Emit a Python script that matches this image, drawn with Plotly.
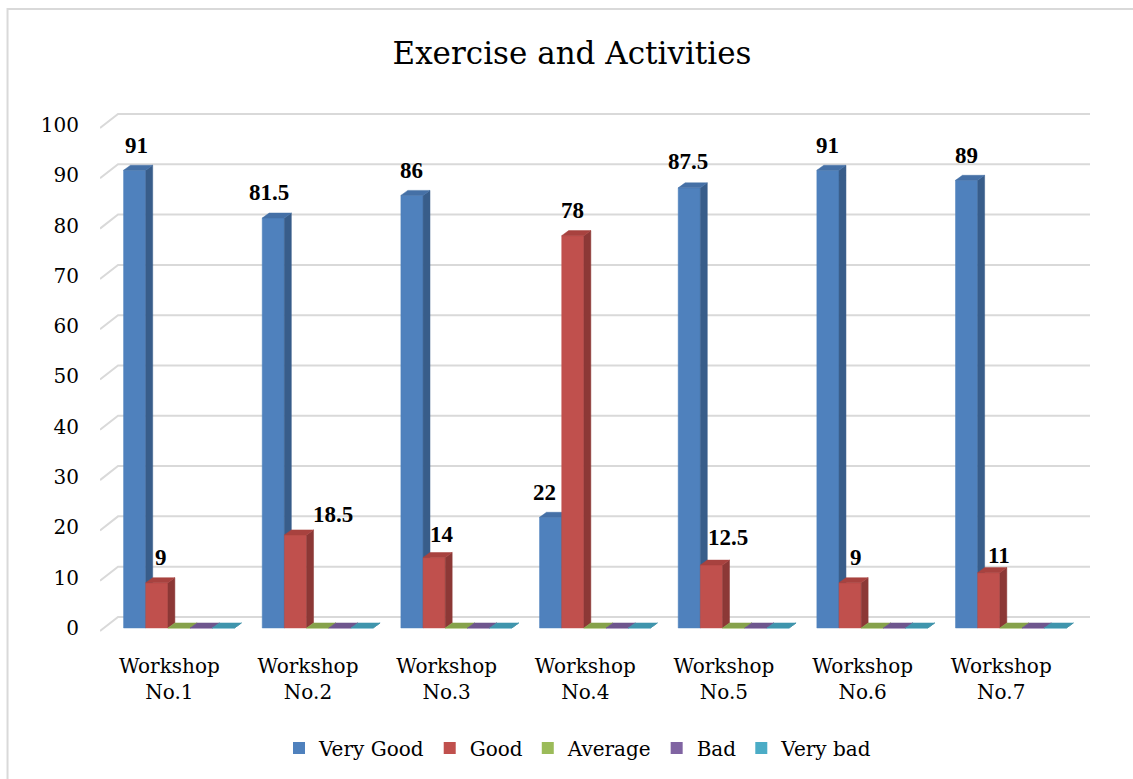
import plotly.graph_objects as go

# ---------------- data ----------------
categories = ["Workshop<br>No.1", "Workshop<br>No.2", "Workshop<br>No.3", "Workshop<br>No.4",
              "Workshop<br>No.5", "Workshop<br>No.6", "Workshop<br>No.7"]
series_names = ["Very Good", "Good", "Average", "Bad", "Very bad"]
very_good = [91, 81.5, 86, 22, 87.5, 91, 89]
good = [9, 18.5, 14, 78, 12.5, 9, 11]
average = [0, 0, 0, 0, 0, 0, 0]
bad = [0, 0, 0, 0, 0, 0, 0]
very_bad = [0, 0, 0, 0, 0, 0, 0]
y_ticks = [0, 10, 20, 30, 40, 50, 60, 70, 80, 90, 100]
title_text = "Exercise and Activities"

# ---------------- styles ----------------
front_colors = ["#4F81BD", "#C0504D", "#9BBB59", "#8064A2", "#4BACC6"]
side_colors = ["#385D8A", "#8C3836", "#71893F", "#5C4776", "#357E91"]
top_colors = ["#4570A6", "#A8423F", "#86A24B", "#6E568E", "#3F95AD"]
FONT = "DejaVu Serif"
LABEL_FONT = "Liberation Serif"

bar_w = 0.16        # width of one column in category units
group_start = -0.33  # left edge of first column relative to category centre
depth_x = 0.05       # 3-D depth, x units
depth_y = 1.0        # 3-D depth, y units
wall_dx = 0.13       # back wall offset (x units)
wall_dy = 2.19       # back wall offset (y units)
wall_low = -0.6      # left end of gridline diagonal (y offset)
x_min, x_max = -0.5, 6.64
y_min, y_max = -2.39, 104.97

# data label fine offsets in px (style only)
label_dx = [[2, -4, 0, -6, -1, 0, 0], [4, 37, 8, 0, 17, 6, 10]]
label_dy = [[25, 26, 25, 25, 26, 25, 25], [25, 20, 23, 25, 28, 25, 17]]

all_series = [very_good, good, average, bad, very_bad]

fig = go.Figure()

# back wall gridlines
gx, gy = [], []
for t in y_ticks:
    gx += [x_min, x_min + wall_dx, x_max, None]
    gy += [t + wall_low, t + wall_dy, t + wall_dy, None]
fig.add_trace(go.Scatter(x=gx, y=gy, mode="lines", line=dict(color="#D9D9D9", width=2),
                         hoverinfo="skip", showlegend=False))

# 3-D columns
for j, vals in enumerate(all_series):
    fx, fy, sx, sy, tx, ty = [], [], [], [], [], []
    for i, v in enumerate(vals):
        l = i + group_start + j * bar_w
        r = l + bar_w
        fx += [l, r, r, l, l, None]
        fy += [0, 0, v, v, 0, None]
        sx += [r, r + depth_x, r + depth_x, r, r, None]
        sy += [0, depth_y, v + depth_y, v, 0, None]
        tx += [l, r, r + depth_x, l + depth_x, l, None]
        ty += [v, v, v + depth_y, v + depth_y, v, None]
    fig.add_trace(go.Scatter(x=fx, y=fy, mode="lines", fill="toself", fillcolor=front_colors[j],
                             line=dict(color=front_colors[j], width=0.5), hoverinfo="skip",
                             showlegend=False))
    fig.add_trace(go.Scatter(x=sx, y=sy, mode="lines", fill="toself", fillcolor=side_colors[j],
                             line=dict(color=side_colors[j], width=0.5), hoverinfo="skip",
                             showlegend=False))
    fig.add_trace(go.Scatter(x=tx, y=ty, mode="lines", fill="toself", fillcolor=top_colors[j],
                             line=dict(color=top_colors[j], width=0.5), hoverinfo="skip",
                             showlegend=False))

# legend entries
for j, name in enumerate(series_names):
    fig.add_trace(go.Bar(x=[None], y=[None], name=name, marker=dict(color=front_colors[j], line=dict(width=0))))

# data labels
for j in range(2):
    for i, v in enumerate(all_series[j]):
        if v > 0:
            cx = i + group_start + j * bar_w + bar_w / 2
            fig.add_annotation(x=cx, y=v, text="<b>%s</b>" % ("%g" % v), showarrow=False,
                               xshift=label_dx[j][i], yshift=label_dy[j][i],
                               xanchor="center", yanchor="middle",
                               font=dict(family=LABEL_FONT, size=23, color="#000000"))

# outer frame
fig.add_shape(type="rect", xref="paper", yref="paper", x0=-0.0934, y0=-0.4, x1=1.1, y1=1.1685,
              line=dict(color="#D9D9D9", width=2), fillcolor="rgba(0,0,0,0)", layer="below")

fig.update_layout(
    width=1133, height=779,
    margin=dict(l=100, r=43, t=100, b=139),
    paper_bgcolor="white", plot_bgcolor="white",
    title=dict(text=title_text, x=572 / 1133, xref="container", xanchor="center",
               y=1 - 53 / 779, yref="container", yanchor="middle",
               font=dict(family=FONT, size=31, color="#000000")),
    xaxis=dict(range=[x_min, x_max], tickvals=list(range(len(categories))), ticktext=categories,
               showgrid=False, zeroline=False, showline=False, ticks="",
               ticklabelstandoff=12,
               tickfont=dict(family=FONT, size=20, color="#000000")),
    yaxis=dict(range=[y_min, y_max], tickvals=y_ticks, showgrid=False, zeroline=False,
               showline=False, ticks="", ticklabelstandoff=20,
               tickfont=dict(family=FONT, size=20, color="#000000")),
    legend=dict(orientation="h", x=(578 - 100) / 990, xanchor="center", y=(640 - 748) / 540,
                yanchor="middle", font=dict(family=FONT, size=20, color="#000000"),
                bgcolor="rgba(0,0,0,0)"),
    showlegend=True,
)

fig.write_html("out.html")
